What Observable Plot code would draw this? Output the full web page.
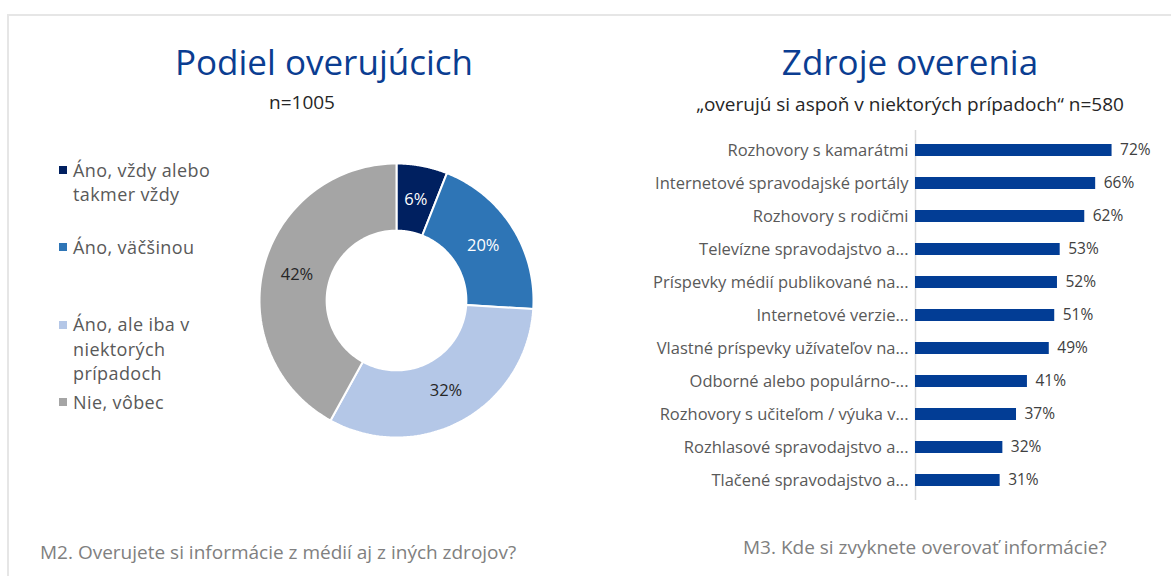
<!DOCTYPE html>
<html>
<head>
<meta charset="utf-8">
<script src="https://cdn.jsdelivr.net/npm/d3@7"></script>
<script src="https://cdn.jsdelivr.net/npm/@observablehq/plot@0.6"></script>
<style>
  body { margin: 0; background: #fff; font-family: "Open Sans", Lato, sans-serif; }
  #page { position: relative; width: 1171px; height: 576px; overflow: hidden; background: #fff; }
  .frame-top { position: absolute; left: 7px; top: 14px; right: 0; height: 2px; background: #e6e6e6; }
  .frame-left { position: absolute; left: 7px; top: 14px; bottom: 0; width: 2px; background: #e6e6e6; }
  .abs { position: absolute; white-space: nowrap; }
  .title { font-size: 35px; line-height: 44px; color: #0B3D91; text-align: center; }
  .sub { font-size: 19px; line-height: 24px; color: #262626; text-align: center; }
  .cap { font-size: 19px; line-height: 24px; color: #808080; }
  .leg { font-size: 18px; line-height: 24.5px; height: 24.5px; letter-spacing: 0.4px; color: #595959; }
  .sw { position: absolute; width: 8px; height: 8px; left: 59px; }
</style>
</head>
<body>
<div id="page">
  <div class="frame-top"></div>
  <div class="frame-left"></div>
  <div class="abs title" style="left:24px;width:600px;top:40px;">Podiel overujúcich</div>
  <div class="abs sub" style="left:152px;width:300px;top:90px;">n=1005</div>
  <div class="abs title" style="left:630px;width:560px;top:40px;">Zdroje overenia</div>
  <div class="abs sub" style="left:630px;width:560px;top:92px;">„overujú si aspoň v niektorých prípadoch“ n=580</div>
  <div id="legend"></div>
  <div id="donut" class="abs" style="left:246px;top:150px;"></div>
  <div id="bars" class="abs" style="left:620px;top:120px;"></div>
  <div class="abs cap" style="left:40px;top:540px;">M2. Overujete si informácie z médií aj z iných zdrojov?</div>
  <div class="abs cap" style="left:743px;top:535px;">M3. Kde si zvyknete overovať informácie?</div>
</div>
<script>
// ---- data ----
const donutCategories = ["Áno, vždy alebo takmer vždy", "Áno, väčšinou", "Áno, ale iba v niektorých prípadoch", "Nie, vôbec"];
const donutLegendLines = [["Áno, vždy alebo", "takmer vždy"], ["Áno, väčšinou"], ["Áno, ale iba v", "niektorých", "prípadoch"], ["Nie, vôbec"]];
const donutValues = [6, 20, 32, 42];

const sourceLabels = [
  "Rozhovory s kamarátmi",
  "Internetové spravodajské portály",
  "Rozhovory s rodičmi",
  "Televízne spravodajstvo a...",
  "Príspevky médií publikované na...",
  "Internetové verzie...",
  "Vlastné príspevky užívateľov na...",
  "Odborné alebo populárno-...",
  "Rozhovory s učiteľom / výuka v...",
  "Rozhlasové spravodajstvo a...",
  "Tlačené spravodajstvo a..."
];
const sourceValues = [72, 66, 62, 53, 52, 51, 49, 41, 37, 32, 31];

// ---- styles ----
const donutColors = ["#002060", "#2E75B6", "#B4C7E7", "#A5A5A5"];
const donutLabelColors = ["#ffffff", "#ffffff", "#262626", "#262626"];
const barColor = "#023D95";
const FONT = "'Open Sans', Lato, sans-serif";

// ---- donut ----
const pie = d3.pie().sort(null).value(d => d)(donutValues);
const innerR = 0.51;
const pts = [];
pie.forEach((p, i) => {
  const n = 80;
  const ring = [];
  for (let k = 0; k <= n; k++) {
    const a = p.startAngle + (p.endAngle - p.startAngle) * k / n;
    ring.push({cat: donutCategories[i], x: Math.sin(a), y: Math.cos(a)});
  }
  for (let k = n; k >= 0; k--) {
    const a = p.startAngle + (p.endAngle - p.startAngle) * k / n;
    ring.push({cat: donutCategories[i], x: innerR * Math.sin(a), y: innerR * Math.cos(a)});
  }
  ring.push(ring[0]);
  pts.push(...ring);
});
const labels = pie.map((p, i) => {
  const m = (p.startAngle + p.endAngle) / 2;
  return {cat: donutCategories[i], x: 0.75 * Math.sin(m), y: 0.75 * Math.cos(m), t: donutValues[i] + "%", c: donutLabelColors[i]};
});

const donut = Plot.plot({
  width: 300, height: 300,
  marginLeft: 13, marginRight: 13, marginTop: 13, marginBottom: 13,
  x: {domain: [-1, 1], axis: null},
  y: {domain: [-1, 1], axis: null},
  color: {domain: donutCategories, range: donutColors},
  style: {fontFamily: FONT, background: "transparent"},
  marks: [
    Plot.line(pts, {x: "x", y: "y", z: "cat", fill: "cat", stroke: "#ffffff", strokeWidth: 2, curve: "linear"}),
    Plot.text(labels, {x: "x", y: "y", text: "t", fill: "c", fontSize: 16.5})
  ]
});
document.getElementById("donut").appendChild(donut);

// ---- legend ----
const legend = document.getElementById("legend");
donutLegendLines.forEach((lines, i) => {
  const top = 157.75 + i * 77.3;
  const sw = document.createElement("div");
  sw.className = "sw";
  sw.style.background = donutColors[i];
  sw.style.top = (top + 8.25) + "px";
  legend.appendChild(sw);
  lines.forEach((line, j) => {
    const el = document.createElement("div");
    el.className = "abs leg";
    el.style.left = "73px";
    el.style.top = (top + j * 24.5) + "px";
    el.textContent = line;
    legend.appendChild(el);
  });
});

// ---- bars ----
const barData = sourceLabels.map((l, i) => ({label: l, v: sourceValues[i]}));
const bars = Plot.plot({
  width: 551, height: 390,
  marginLeft: 295, marginRight: 37.6, marginTop: 10, marginBottom: 10,
  x: {domain: [0, 80], axis: null},
  y: {domain: sourceLabels, paddingInner: 0.64, paddingOuter: 0.32, label: null, axis: null},
  style: {fontFamily: FONT, fontSize: "16.5px", color: "#595959", background: "transparent"},
  marks: [
    Plot.ruleX([0], {stroke: "#d9d9d9", strokeWidth: 1.5}),
    Plot.barX(barData, {x: "v", y: "label", fill: barColor}),
    Plot.text(barData, {x: "v", y: "label", text: d => d.v + "%", dx: 8, textAnchor: "start", fill: "#404040", fontSize: 15.5}),
    Plot.axisY({tickSize: 0, tickPadding: 7, label: null, fontSize: 16.5, fill: "#595959"})
  ]
});
document.getElementById("bars").appendChild(bars);
</script>
</body>
</html>
